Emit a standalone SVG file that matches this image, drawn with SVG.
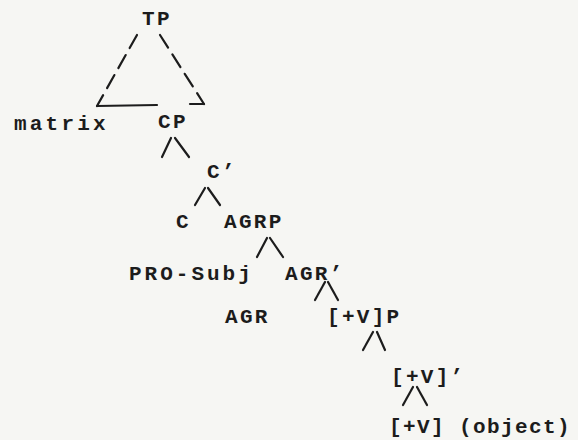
<svg xmlns="http://www.w3.org/2000/svg" width="578" height="440" viewBox="0 0 578 440">
<style>
text{font-family:"Liberation Mono","Courier New",monospace;font-size:21px;font-weight:bold;fill:#1c1c1c;letter-spacing:2.3px}
.e{stroke:#1c1c1c;stroke-width:2.2;fill:none;stroke-linecap:round}
.d{stroke-dasharray:15 8}
</style>
<rect width="578" height="440" fill="#f6f6f3"/>
<g id="connectors">
<line class="e d" x1="137" y1="35" x2="97" y2="106"/>
<line class="e" x1="97" y1="106" x2="157" y2="105"/>
<line class="e d" x1="160" y1="35" x2="204" y2="104"/>
<line class="e" x1="190" y1="104" x2="204" y2="104"/>
<line class="e" x1="162" y1="157" x2="171" y2="138"/>
<line class="e" x1="175" y1="138" x2="189" y2="157"/>
<line class="e" x1="195" y1="205" x2="205" y2="188"/>
<line class="e" x1="208" y1="188" x2="220" y2="205"/>
<line class="e" x1="257" y1="257" x2="267" y2="238"/>
<line class="e" x1="270" y1="238" x2="283" y2="257"/>
<line class="e" x1="315" y1="300" x2="325" y2="282"/>
<line class="e" x1="328" y1="282" x2="338" y2="300"/>
<line class="e" x1="363" y1="350" x2="373" y2="332"/>
<line class="e" x1="377" y1="332" x2="385" y2="350"/>
<line class="e" x1="403" y1="405" x2="413" y2="387"/>
<line class="e" x1="417" y1="387" x2="427" y2="405"/>
</g>
<g id="TP"><text x="142" y="25">TP</text></g>
<g id="matrix"><text x="14" y="130" style="letter-spacing:3.2px">matrix</text></g>
<g id="CP"><text x="158" y="128">CP</text></g>
<g id="Cbar"><text x="207" y="178">C’</text></g>
<g id="C"><text x="176" y="228">C</text></g>
<g id="AGRP"><text x="224" y="228">AGRP</text></g>
<g id="PRO-Subj"><text x="129" y="280" style="letter-spacing:3px">PRO-Subj</text></g>
<g id="AGRbar"><text x="285" y="280">AGR’</text></g>
<g id="AGR"><text x="225" y="323">AGR</text></g>
<g id="VP"><text x="327" y="323">[+V]P</text></g>
<g id="Vbar"><text x="391" y="383">[+V]’</text></g>
<g id="V"><text x="389" y="433" style="letter-spacing:1.4px">[+V] (object)</text></g>
</svg>
